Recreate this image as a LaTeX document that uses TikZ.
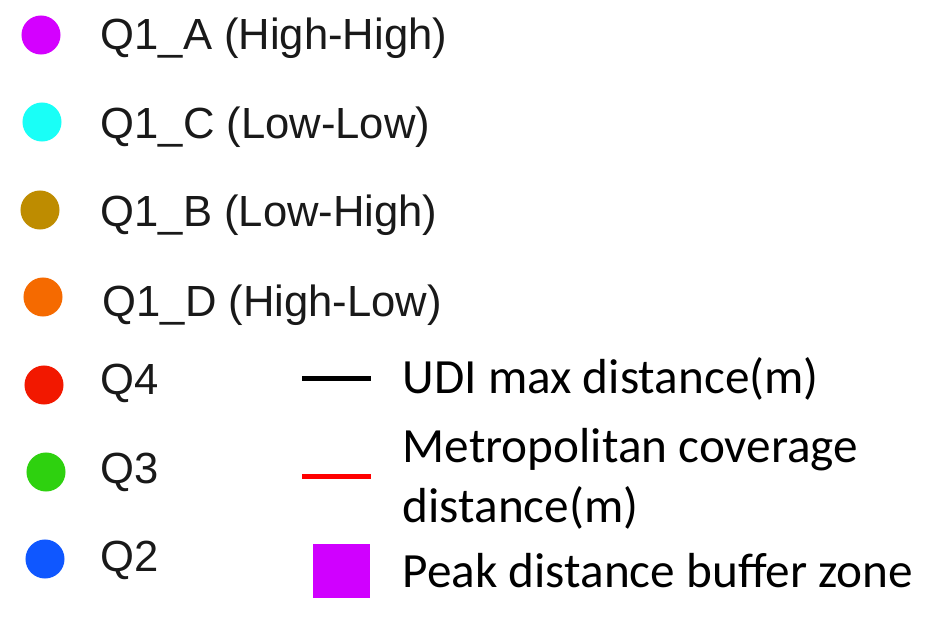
\documentclass[tikz,border=0pt]{standalone}
\usepackage{fontspec}
\setmainfont{Liberation Sans}
\newfontfamily\keyfont{Carlito}
\usetikzlibrary{positioning}
\definecolor{qhighhigh}{RGB}{212,0,255}
\definecolor{qlowlow}{RGB}{25,255,247}
\definecolor{qlowhigh}{RGB}{190,140,0}
\definecolor{qhighlow}{RGB}{245,106,0}
\definecolor{qfour}{RGB}{242,24,0}
\definecolor{qthree}{RGB}{46,209,15}
\definecolor{qtwo}{RGB}{15,87,255}
\definecolor{peakzone}{RGB}{208,0,255}
\definecolor{metrored}{RGB}{255,0,0}

\begin{document}
\begin{tikzpicture}[x=0.01cm, y=-0.01cm,
        dot/.style={circle, inner sep=0pt, minimum size=0.39cm},
        qlabel/.style={anchor=base west, inner sep=0pt, text=black!90,
                       font=\fontsize{12.4}{15}\selectfont},
        keylabel/.style={anchor=base west, inner sep=0pt, align=left,
                         font=\keyfont\fontsize{14}{16.8}\selectfont},
        keyline/.style={line width=1.42pt}
      ]
        \useasboundingbox[fill=white] (0,0) rectangle (930,618);

        % quadrant dots
        \node[dot, fill=qhighhigh] (dotA) at (41,35)  {};
        \node[dot, fill=qlowlow]   (dotC) at (42,122) {};
        \node[dot, fill=qlowhigh]  (dotB) at (40,210) {};
        \node[dot, fill=qhighlow]  (dotD) at (43,297) {};
        \node[dot, fill=qfour]     (dotQ4) at (44,385) {};
        \node[dot, fill=qthree]    (dotQ3) at (46,472) {};
        \node[dot, fill=qtwo]      (dotQ2) at (45,559) {};

        \node[qlabel] (labA)  at (100,50)  {Q1\_A (High-High)};
        \node[qlabel] (labC)  at (100,138) {Q1\_C (Low-Low)};
        \node[qlabel] (labB)  at (100,226) {Q1\_B (Low-High)};
        \node[qlabel] (labD)  at (102,316) {Q1\_D (High-Low)};
        \node[qlabel] (labQ4) at (100,394) {Q4};
        \node[qlabel] (labQ3) at (100,483) {Q3};
        \node[qlabel] (labQ2) at (100,571) {Q2};

        % distance keys
        \coordinate (udiL) at (302,378);
        \coordinate (udiR) at (371,378);
        \draw[keyline, black] (udiL) -- (udiR);
        \coordinate (metroL) at (302,476);
        \coordinate (metroR) at (371,476);
        \draw[keyline, metrored] (metroL) -- (metroR);
        \node[rectangle, fill=peakzone, inner sep=0pt,
              minimum width=0.57cm, minimum height=0.54cm] (peak) at (341.5,571) {};

        % base of a two-line node is its last line
        \node[keylabel] (udi)   at (402,393) {UDI max distance(m)};
        \node[keylabel] (metro) at (402,522) {Metropolitan coverage\\distance(m)};
        \node[keylabel] (buf)   at (402,587) {Peak distance buffer zone};
      \end{tikzpicture}
\end{document}
